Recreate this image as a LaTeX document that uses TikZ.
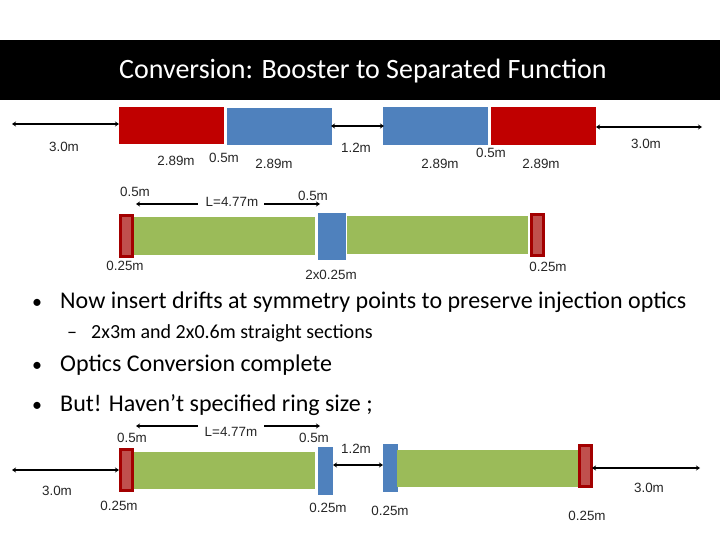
\documentclass[tikz,border=0pt]{standalone}
\usepackage{fontspec}
\setmainfont{Carlito}
\newfontfamily\lblfont{Liberation Sans}
\usetikzlibrary{arrows.meta}
\definecolor{dred}{HTML}{C00000}
\definecolor{dblue}{HTML}{4F81BD}
\definecolor{dgreen}{HTML}{9BBB59}
\definecolor{pinkred}{HTML}{C0504D}
\tikzset{
 blk/.style={inner sep=0pt,outer sep=0pt,draw=none,anchor=north west},
 redb/.style={blk,fill=dred},
 blueb/.style={blk,fill=dblue},
 greenb/.style={blk,fill=dgreen},
 thin red/.style={blk,fill=pinkred,draw=dred!85!black,line width=2.6pt},
 dimline/.style={draw=black,line width=2.6pt,{Stealth[length=4pt,width=5pt]}-{Stealth[length=4pt,width=5pt]}},
 halfl/.style={draw=black,line width=2.6pt,{Stealth[length=4pt,width=5pt]}-},
 halfr/.style={draw=black,line width=2.6pt,-{Stealth[length=4pt,width=5pt]}},
 lbl/.style={font=\lblfont\fontsize{13.4}{15}\selectfont,text=black!85,inner sep=0pt},
 bul/.style={anchor=base west,inner sep=0pt,text=black,font=\fontsize{24}{26}\selectfont},
 dotb/.style={anchor=base west,inner sep=0pt,text=black,font=\fontsize{20}{22}\selectfont},
 sub/.style={anchor=base west,inner sep=0pt,text=black,font=\fontsize{20}{22}\selectfont},
}
\begin{document}
\begin{tikzpicture}[x=1pt,y=-1pt]
\useasboundingbox (0,0) rectangle (720,540);
\fill[white] (0,0) rectangle (720,540);
\node[blk,fill=black,minimum width=720pt,minimum height=60pt] (banner) at (0,40) {};
\node[inner sep=0pt,text=white,font=\fontsize{28}{32}\selectfont] (title) at (363,71) {Conversion: Booster to Separated Function};
% top row
\node[redb,minimum width=105pt,minimum height=37pt] (r1) at (119,107) {};
\node[blueb,minimum width=105pt,minimum height=37pt] (b1) at (227,108) {};
\node[blueb,minimum width=105pt,minimum height=38pt] (b2) at (383,107) {};
\node[redb,minimum width=105pt,minimum height=38pt] (r2) at (491,107) {};
\coordinate (tl) at (12,124);
\coordinate (tr) at (702,127);
\coordinate (tla) at (119,124);
\coordinate (tra) at (596,127);
\coordinate (tca) at (331,126);
\coordinate (tcb) at (384,126);
\draw[dimline] (tl) -- (tla);
\draw[dimline] (tra) -- (tr);
\draw[dimline] (tca) -- (tcb);
\node[lbl] (l1) at (64,147) {3.0m};
\node[lbl] (l2) at (176,161) {2.89m};
\node[lbl] (l3) at (224,158) {0.5m};
\node[lbl] (l4) at (274,164) {2.89m};
\node[lbl] (l5) at (356,148) {1.2m};
\node[lbl] (l6) at (440,164) {2.89m};
\node[lbl] (l7) at (491,153) {0.5m};
\node[lbl] (l8) at (541,164) {2.89m};
\node[lbl] (l9) at (646,144) {3.0m};
% middle row
\node[greenb,minimum width=181pt,minimum height=38pt] (g1) at (134,217) {};
\node[blueb,minimum width=28pt,minimum height=47pt] (mb) at (318,213) {};
\node[greenb,minimum width=181pt,minimum height=38pt] (g2) at (347,216) {};
\node[thin red,minimum width=12.4pt,minimum height=41.4pt] (mr1) at (120.3,215.3) {};
\node[thin red,minimum width=12.4pt,minimum height=41.4pt] (mr2) at (531.3,214.3) {};
\node[lbl] (m1) at (135,192) {0.5m};
\node[lbl] (ml) at (232,202) {L=4.77m};
\node[lbl] (m2) at (313,196) {0.5m};
\coordinate (ma) at (136,204);
\coordinate (mb2) at (320,204);
\draw[halfl] (ma) -- (198,204);
\draw[halfr] (264,204) -- (mb2);
\node[lbl] (m3) at (125,266) {0.25m};
\node[lbl] (m4) at (331,275) {2x0.25m};
\node[lbl] (m5) at (548,267) {0.25m};
% bullets
\node[dotb] (t1d) at (32,308) {•};
\node[bul] (t1) at (60,308) {Now insert drifts at symmetry points to preserve injection optics};
\node[sub] (t2d) at (67,338) {–};
\node[sub] (t2) at (91,338) {2x3m and 2x0.6m straight sections};
\node[dotb] (t3d) at (32,371) {•};
\node[bul] (t3) at (60,371) {Optics Conversion complete};
\node[dotb] (t4d) at (32,411) {•};
\node[bul] (t4) at (60,411) {But! Haven’t specified ring size ;};
% bottom row
\node[greenb,minimum width=181pt,minimum height=37pt] (g3) at (134,452) {};
\node[blueb,minimum width=15pt,minimum height=48pt] (bb1) at (318,447) {};
\node[blueb,minimum width=15pt,minimum height=48pt] (bb2) at (383,444) {};
\node[greenb,minimum width=181pt,minimum height=37pt] (g4) at (397,450) {};
\node[thin red,minimum width=12.4pt,minimum height=41.4pt] (br1) at (120.3,449.3) {};
\node[thin red,minimum width=12.4pt,minimum height=41.4pt] (br2) at (579.3,445.3) {};
\coordinate (bl) at (12,470);
\coordinate (bla) at (119,470);
\coordinate (br) at (700,468);
\coordinate (bra) at (592,468);
\coordinate (bca) at (333,465);
\coordinate (bcb) at (383,465);
\draw[dimline] (bl) -- (bla);
\draw[dimline] (bra) -- (br);
\draw[dimline] (bca) -- (bcb);
\coordinate (bma) at (136,426);
\coordinate (bmb) at (320,426);
\draw[halfl] (bma) -- (198,426);
\draw[halfr] (264,426) -- (bmb);
\node[lbl] (n1) at (132,438) {0.5m};
\node[lbl] (n2) at (231,432) {L=4.77m};
\node[lbl] (n3) at (314,438) {0.5m};
\node[lbl] (n4) at (356,449) {1.2m};
\node[lbl] (n5) at (57,491) {3.0m};
\node[lbl] (n6) at (119,506) {0.25m};
\node[lbl] (n7) at (328,508) {0.25m};
\node[lbl] (n8) at (390,511) {0.25m};
\node[lbl] (n9) at (587,516) {0.25m};
\node[lbl] (n10) at (649,488) {3.0m};
\end{tikzpicture}
\end{document}
